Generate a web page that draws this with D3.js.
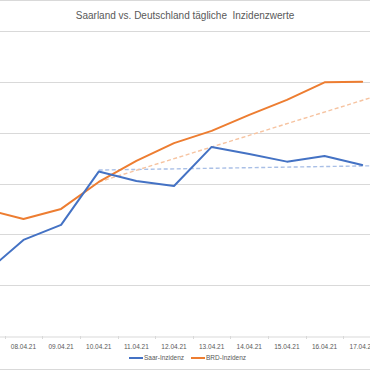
<!DOCTYPE html>
<html><head><meta charset="utf-8">
<script src="https://cdn.jsdelivr.net/npm/d3@7"></script>
<style>html,body{margin:0;padding:0;background:#fff;overflow:hidden}</style>
</head><body>
<svg id="c" width="370" height="370"></svg>
<script>
const dates = ["07.04.21","08.04.21","09.04.21","10.04.21","11.04.21","12.04.21","13.04.21","14.04.21","15.04.21","16.04.21","17.04.21"];
const saar = [85.0, 97.8, 103.7, 124.7, 121.0, 119.0, 134.4, 131.6, 128.6, 130.8, 127.3];
const brd  = [109.8, 106.0, 110.0, 120.6, 128.9, 135.9, 140.7, 147.0, 152.9, 159.8, 160.0];
const saarTrend = [{d:"10.04.21", v:125.3}, {d:"17.04.21", v:126.9}];
const brdTrend  = [{d:"10.04.21", v:120.6}, {d:"17.04.21", v:152.7}];
const yTicks = [60, 80, 100, 120, 140, 160, 180];
const title = "Saarland vs. Deutschland tägliche  Inzidenzwerte";
const seriesNames = ["Saar-Inzidenz", "BRD-Inzidenz"];
const colors = {saar:"#4472C4", brd:"#ED7D31", saarT:"#A9BFE6", brdT:"#F6C3A0"};

const svg = d3.select("#c");
const font = "'Liberation Sans', Arial, sans-serif";
const plot = {left:-33, right:381, top:31, bottom:336};

// chart border
svg.append("rect").attr("x",-1).attr("y",0.5).attr("width",372).attr("height",369)
  .attr("fill","#fff").attr("stroke","#D9D9D9").attr("stroke-width",1);

const x = d3.scaleBand().domain(dates).range([plot.left, plot.right]).padding(0);
const xc = d => x(d) + x.bandwidth()/2;
const y = d3.scaleLinear().domain([60,180]).range([plot.bottom, plot.top]);

// gridlines
svg.append("g").selectAll("line").data(yTicks.slice(1)).join("line")
  .attr("x1", plot.left).attr("x2", plot.right)
  .attr("y1", d=>Math.round(y(d))+0.5).attr("y2", d=>Math.round(y(d))+0.5)
  .attr("stroke","#D9D9D9").attr("stroke-width",1);

// x axis (only labels inside the visible crop, as in the reference)
const visibleDates = dates.filter(d => xc(d) > 12);
const xa = svg.append("g").attr("transform",`translate(0,${Math.round(y(60))+0.5})`)
  .call(d3.axisBottom(x).tickValues(visibleDates).tickSize(0).tickPadding(8));
xa.select(".domain").attr("stroke","#D9D9D9").attr("stroke-width",1);
xa.selectAll("text").attr("fill","#595959").style("font-family",font).style("font-size","6.5px");
// small ticks between categories
svg.append("g").selectAll("line").data(dates.slice(1)).join("line")
  .attr("x1", d=>Math.round(x(d))+0.5).attr("x2", d=>Math.round(x(d))+0.5)
  .attr("y1", Math.round(y(60))).attr("y2", Math.round(y(60))+3)
  .attr("stroke","#D9D9D9").attr("stroke-width",1);

// trend lines (dashed), extended to the plot edge
function trendPath(t){
  const x0 = xc(t[0].d), x1 = xc(t[1].d);
  const y0 = y(t[0].v), y1 = y(t[1].v);
  const s = (y1-y0)/(x1-x0);
  const xe = plot.right - x.bandwidth()/2 + 10;
  return `M${x0},${y0}L${xe},${y0 + s*(xe-x0)}`;
}
svg.append("path").attr("d", trendPath(saarTrend)).attr("fill","none")
  .attr("stroke", colors.saarT).attr("stroke-width",1.4).attr("stroke-dasharray","4,2.5");
svg.append("path").attr("d", trendPath(brdTrend)).attr("fill","none")
  .attr("stroke", colors.brdT).attr("stroke-width",1.4).attr("stroke-dasharray","4,2.5");

// series lines
const line = d3.line().x((d,i)=>xc(dates[i])).y(d=>y(d));
svg.append("path").datum(brd).attr("d", line).attr("fill","none")
  .attr("stroke", colors.brd).attr("stroke-width",2).attr("stroke-linejoin","round").attr("stroke-linecap","round");
svg.append("path").datum(saar).attr("d", line).attr("fill","none")
  .attr("stroke", colors.saar).attr("stroke-width",2).attr("stroke-linejoin","round").attr("stroke-linecap","round");

// title
svg.append("text").attr("x",185).attr("y",18.5).attr("text-anchor","middle")
  .attr("fill","#595959").style("font-family",font).style("font-size","10px")
  .style("white-space","pre").text(title);

// legend
const leg = [{n:seriesNames[0], c:colors.saar, x:129},{n:seriesNames[1], c:colors.brd, x:191}];
const lg = svg.append("g").selectAll("g").data(leg).join("g");
lg.append("line").attr("x1",d=>d.x).attr("x2",d=>d.x+14).attr("y1",358).attr("y2",358)
  .attr("stroke",d=>d.c).attr("stroke-width",2);
lg.append("text").attr("x",d=>d.x+15).attr("y",360.3).attr("fill","#595959")
  .style("font-family",font).style("font-size","6.5px").text(d=>d.n);
</script>
</body></html>
